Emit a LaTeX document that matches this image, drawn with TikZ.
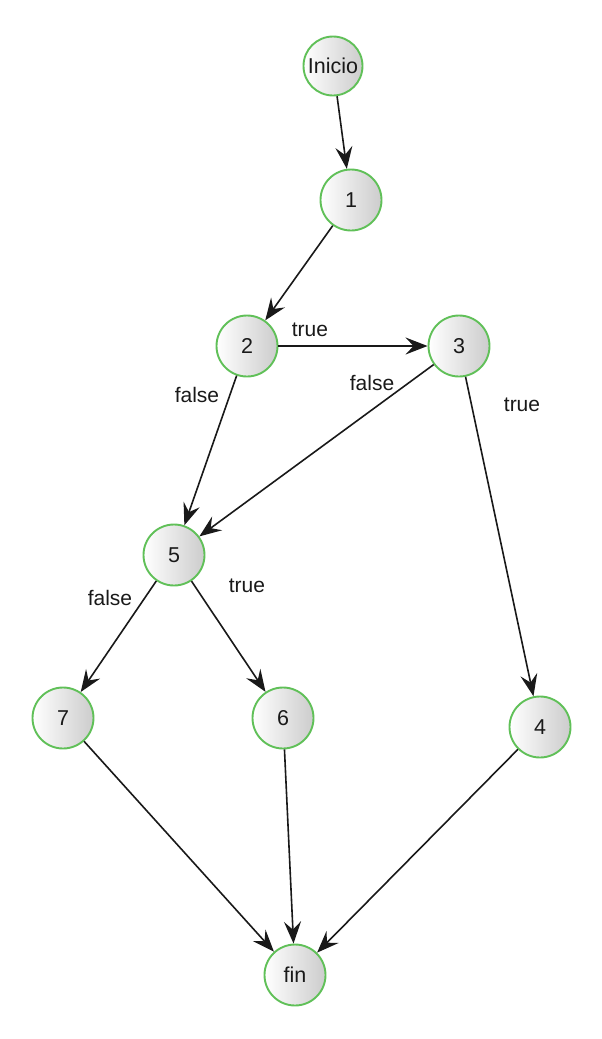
\documentclass[tikz,border=0pt]{standalone}
\usepackage{fontspec}
\setmainfont{Liberation Sans}
\usetikzlibrary{arrows.meta}
\definecolor{ringgreen}{RGB}{96,192,88}
\definecolor{inkgray}{RGB}{25,25,25}
\tikzset{
  state/.style={circle, minimum size=61pt, inner sep=0pt, draw=ringgreen, line width=1.9pt,
    left color=white, middle color=black!3, right color=black!20, text=inkgray,
    font=\fontsize{21.5}{21.5}\selectfont},
  flow/.style={draw=inkgray, line width=1.6pt, -{Stealth[length=22pt,width=17pt,inset=8pt]}},
  lbl/.style={text=inkgray, font=\fontsize{21}{21}\selectfont, inner sep=0pt}
}
\begin{document}
\begin{tikzpicture}[x=1pt,y=-1pt]
\useasboundingbox (0,0) rectangle (602,1039);
\node[state, minimum size=59pt] (ini) at (333,66) {Inicio};
\node[state] (n1) at (351,200) {1};
\node[state] (n2) at (247,346) {2};
\node[state] (n3) at (459,346) {3};
\node[state] (n5) at (174,555) {5};
\node[state] (n7) at (63,718) {7};
\node[state] (n6) at (283,718) {6};
\node[state] (n4) at (540,727) {4};
\node[state] (fin) at (295,975) {fin};

\draw[flow] (ini) -- (n1);
\draw[flow] (n1) -- (n2);
\draw[flow] (n2) -- (n3);
\draw[flow] (n2) -- (n5);
\draw[flow] (n3) -- (n5);
\draw[flow] (n3) -- (n4);
\draw[flow] (n5) -- (n7);
\draw[flow] (n5) -- (n6);
\draw[flow] (n7) -- (fin);
\draw[flow] (n6) -- (fin);
\draw[flow] (n4) -- (fin);

\node[lbl] (t23) at (310,330) {true};
\node[lbl] (f25) at (197,395) {false};
\node[lbl] (f35) at (372,383) {false};
\node[lbl] (t34) at (522,405) {true};
\node[lbl] (t56) at (247,586) {true};
\node[lbl] (f57) at (110,598) {false};
\end{tikzpicture}
\end{document}
